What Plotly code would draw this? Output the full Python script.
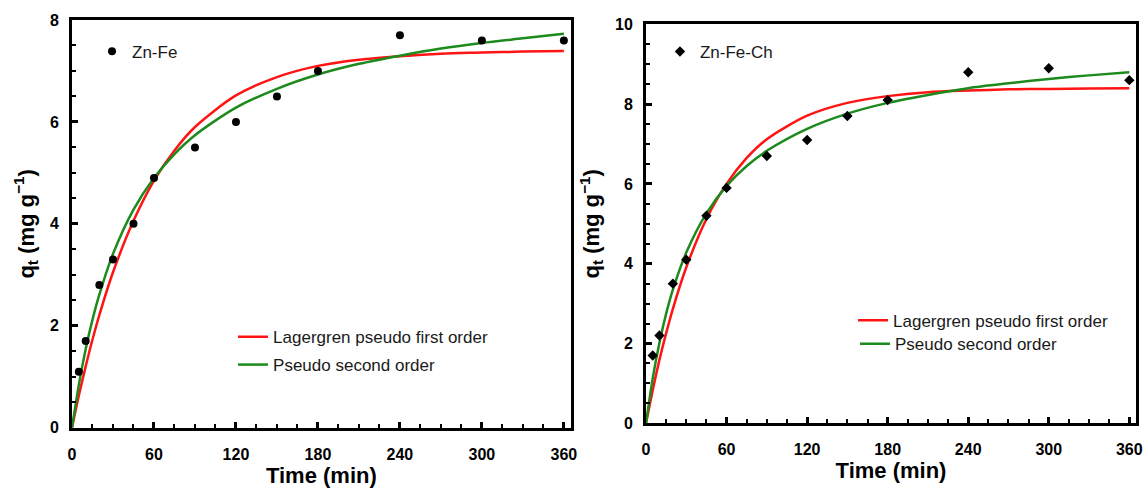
import plotly.graph_objects as go

# Measured adsorption capacity q_t (mg/g) vs. contact time (min)
time_pts = [5, 10, 20, 30, 45, 60, 90, 120, 150, 180, 240, 300, 360]
q_znfe = [1.1, 1.7, 2.8, 3.3, 4.0, 4.9, 5.5, 6.0, 6.5, 7.0, 7.7, 7.6, 7.6]
q_znfech = [1.7, 2.2, 3.5, 4.1, 5.2, 5.9, 6.7, 7.1, 7.7, 8.1, 8.8, 8.9, 8.6]

# Fitted kinetic model curves
time_fit = [0, 5, 10, 15, 20, 30, 45, 60, 75, 90, 120, 150, 180, 210, 240, 270, 300, 330, 360]
pfo_znfe = [0, 0.63, 1.20, 1.73, 2.21, 3.05, 4.06, 4.85, 5.44, 5.90, 6.52, 6.88, 7.10,
            7.22, 7.29, 7.34, 7.36, 7.38, 7.39]
pso_znfe = [0, 0.84, 1.54, 2.12, 2.61, 3.41, 4.28, 4.90, 5.37, 5.74, 6.28, 6.65, 6.93,
            7.14, 7.30, 7.44, 7.55, 7.64, 7.73]
pfo_znfech = [0, 0.83, 1.59, 2.26, 2.87, 3.91, 5.12, 6.00, 6.65, 7.12, 7.71, 8.03, 8.20,
              8.30, 8.34, 8.37, 8.38, 8.39, 8.40]
pso_znfech = [0, 1.13, 2.02, 2.75, 3.35, 4.28, 5.26, 5.95, 6.45, 6.83, 7.38, 7.76, 8.03,
              8.23, 8.40, 8.52, 8.63, 8.72, 8.80]

x_ticks = [0, 60, 120, 180, 240, 300, 360]
label_pfo = "Lagergren pseudo first order"
label_pso = "Pseudo second order"

RED = "#ff1414"
GREEN = "#1c8a1c"
FONT = "Liberation Sans, Arial, sans-serif"

fig = go.Figure()


def add_panel(xa, ya, q, pfo, pso, name, symbol, msize, legs):
    fig.add_trace(go.Scatter(
        x=time_fit, y=pfo, mode="lines", name=label_pfo,
        line=dict(color=RED, width=2.5, shape="spline", smoothing=0.8),
        xaxis=xa, yaxis=ya, legend=legs[1]))
    fig.add_trace(go.Scatter(
        x=time_fit, y=pso, mode="lines", name=label_pso,
        line=dict(color=GREEN, width=2.5, shape="spline", smoothing=0.8),
        xaxis=xa, yaxis=ya, legend=legs[2]))
    fig.add_trace(go.Scatter(
        x=time_pts, y=q, mode="markers", name=name,
        marker=dict(color="black", size=msize, symbol=symbol),
        xaxis=xa, yaxis=ya, legend=legs[0]))


add_panel("x", "y", q_znfe, pfo_znfe, pso_znfe, "Zn-Fe", "circle", 8,
          ["legend", "legend2", "legend3"])
add_panel("x2", "y2", q_znfech, pfo_znfech, pso_znfech, "Zn-Fe-Ch", "diamond", 8,
          ["legend4", "legend5", "legend6"])

tick_font = dict(family=FONT, size=16, color="black", weight="bold")
title_font = dict(family=FONT, size=22, color="black", weight="bold")


def x_axis(domain, anchor):
    return dict(
        domain=domain, anchor=anchor, range=[0, 365],
        tickmode="array", tickvals=x_ticks,
        ticks="inside", ticklen=6, tickwidth=2.5, tickcolor="black",
        minor=dict(tickmode="linear", tick0=0, dtick=15, ticks="inside",
                   ticklen=4, tickwidth=2, tickcolor="black", showgrid=False),
        ticklabelstandoff=10,
        showline=True, linewidth=3, linecolor="black", mirror=True,
        showgrid=False, zeroline=False, tickfont=tick_font,
        title=dict(text="Time (min)", font=title_font, standoff=6),
    )


def y_axis(domain, anchor, top):
    return dict(
        domain=domain, anchor=anchor, range=[0, top],
        tickmode="linear", dtick=2, tick0=0,
        ticks="inside", ticklen=6, tickwidth=2.5, tickcolor="black",
        minor=dict(tickmode="linear", tick0=0, dtick=0.5, ticks="inside",
                   ticklen=4, tickwidth=2, tickcolor="black", showgrid=False),
        ticklabelstandoff=7,
        showline=True, linewidth=3, linecolor="black", mirror=True,
        showgrid=False, zeroline=False, tickfont=tick_font,
        title=dict(text="q<sub>t</sub> (mg g<sup>\u22121</sup>)", font=title_font, standoff=10),
    )


def legend_at(x, y):
    return dict(x=x, y=y, xanchor="left", yanchor="middle", xref="paper", yref="paper",
                bgcolor="rgba(0,0,0,0)", borderwidth=0,
                font=dict(family=FONT, size=17, color="#1a1a1a"))


fig.update_layout(
    width=1143, height=488,
    margin=dict(l=0, r=0, t=0, b=0, pad=0, autoexpand=False),
    paper_bgcolor="white", plot_bgcolor="white",
    showlegend=True,
    xaxis=x_axis([0.0630, 0.4993], "y"),
    yaxis=y_axis([0.1236, 0.9590], "x", 8),
    xaxis2=x_axis([0.5652, 0.9939], "y2"),
    yaxis2=y_axis([0.1326, 0.9502], "x2", 10),
    legend=legend_at(0.0805, 0.894),
    legend2=legend_at(0.2039, 0.3088),
    legend3=legend_at(0.2039, 0.2520),
    legend4=legend_at(0.5774, 0.8934),
    legend5=legend_at(0.7463, 0.3428),
    legend6=legend_at(0.7480, 0.2945),
)

fig.write_html("out.html")
